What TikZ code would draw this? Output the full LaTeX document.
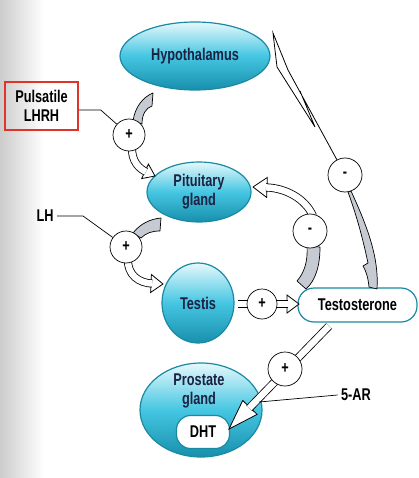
\documentclass[tikz,border=0pt]{standalone}
\usepackage{fontspec}
\setmainfont{Liberation Sans}[FakeStretch=0.75]
\usetikzlibrary{shapes.geometric, decorations.markings}

\definecolor{organtop}{HTML}{E6F8FC}
\definecolor{organmid}{HTML}{45C6E2}
\definecolor{organbot}{HTML}{178FAC}
\definecolor{organline}{HTML}{1A8AA3}
\definecolor{organtext}{HTML}{1B2242}
\definecolor{bandgray}{HTML}{C6CAD2}
\definecolor{boxred}{HTML}{E0342A}

\tikzset{
  organ/.style={ellipse, draw=organline, line width=1.2pt, top color=organtop,
    bottom color=organbot, middle color=organmid, text=organtext, align=center, inner sep=0pt},
  pill/.style={rectangle, rounded corners=#1, draw=organline, line width=1.2pt, fill=white, inner sep=0pt},
  sign/.style={circle, draw, fill=white, line width=0.7pt, minimum size=32pt, inner sep=0pt},
  band/.style={fill=bandgray, draw, line width=0.7pt, line join=round},
  shaft/.style={double=white, double distance=6.5pt, line width=0.8pt},
  headat/.style n args={2}{postaction={decorate}, decoration={markings,
    mark=at position 0.9999 with {\filldraw[fill=white, line width=0.8pt] (-#1,-#2) -- (0,0) -- (-#1,#2) -- cycle;}}},
}

% white block arrow: head length, head half width, shortening, path
\newcommand{\whitearrow}[4]{%
  \path[headat={#1}{#2}] #4;
  \draw[shaft, shorten >=#3pt] #4;
}

\begin{document}
\begin{tikzpicture}[x=1pt, y=-1pt, font=\bfseries\fontsize{17}{19}\selectfont]
  \useasboundingbox (0,0) rectangle (418,478);
  \shade[left color=black!20, right color=white] (0,0) rectangle (44,478);

  % organs and labels
  \node[organ, minimum width=150pt, minimum height=68pt] (hypo) at (195,56) {Hypothalamus};
  \node[organ, minimum width=104pt, minimum height=60pt] (pit) at (199,192) {Pituitary\\gland};
  \node[organ, minimum width=72pt, minimum height=80pt] (testis) at (198,303) {Testis};
  \node[organ, minimum width=122pt, minimum height=94pt] (prost) at (201,410) {};
  \node[text=organtext, align=center] (prosttxt) at (199,391) {Prostate\\gland};
  \node[pill=14, minimum width=53pt, minimum height=33pt] (dht) at (203,432) {DHT};
  \node[pill=16, minimum width=119pt, minimum height=34pt] (testo) at (357.5,305) {Testosterone};

  \node[draw=boxred, line width=1.5pt, minimum width=73pt, minimum height=48pt, align=center] (lhrh) at (41.5,106) {Pulsatile\\LHRH};
  \node (lh) at (45,216) {LH};
  \node (ar) at (356,395) {5-AR};

  % gray bands
  \filldraw[band] (153,93) -- (152,106) .. controls (146,108) and (142,114) .. (142,124)
    -- (133,121) .. controls (135,107) and (143,97) .. (153,93) -- cycle;
  \filldraw[band] (161,218) -- (160,231) .. controls (152,231) and (146,233) .. (141,238)
    -- (133,233) .. controls (140,224) and (150,219) .. (161,218) -- cycle;
  \filldraw[band] (297,281) -- (306,289) .. controls (316,280) and (320,265) .. (320,247)
    -- (307,246) .. controls (308,262) and (304,273) .. (297,281) -- cycle;
  \filldraw[band] (351,191) .. controls (368,228) and (379,258) .. (377,289) -- (369,287)
    .. controls (368,277) and (366,271) .. (363,266) -- (368,263)
    .. controls (362,235) and (356,214) .. (348,192) -- cycle;

  % white arrows
  \whitearrow{11}{8}{10}{(132,146) .. controls (131,162) and (140,169) .. (155,176)}
  \whitearrow{12}{9}{11}{(128,258) .. controls (127,276) and (140,283) .. (163,284)}
  \whitearrow{14}{10}{13}{(313,216) .. controls (305,198) and (285,188) .. (253,187)}
  \whitearrow{12}{9}{11}{(238,304) -- (299,304)}
  \whitearrow{30}{10}{29}{(329,326) -- (229,429)}

  % signs
  \node[sign] (p1) at (129,135) {+};
  \node[sign] (p2) at (126,247) {+};
  \node[sign, minimum size=30pt] (p3) at (262,304) {+};
  \node[sign, minimum size=34pt] (m1) at (345,175) {-};
  \node[sign, minimum size=34pt] (m2) at (310,231) {-};
  \node[sign, minimum size=34pt] (p4) at (285,369) {+};

  % thin connectors
  \draw[line width=0.7pt] ([yshift=-4pt]lhrh.east) -- ++(22,0) -- (p1);
  \draw[line width=0.7pt] (lh.east) -- ++(26,0) -- (p2);
  \draw[line width=0.7pt] (ar.west) -- (259,402);
  \draw[line width=0.8pt] (m1.118) -- (288,70) -- (273,33) -- (277,67) -- (315,127) -- (300,91);
\end{tikzpicture}
\end{document}
